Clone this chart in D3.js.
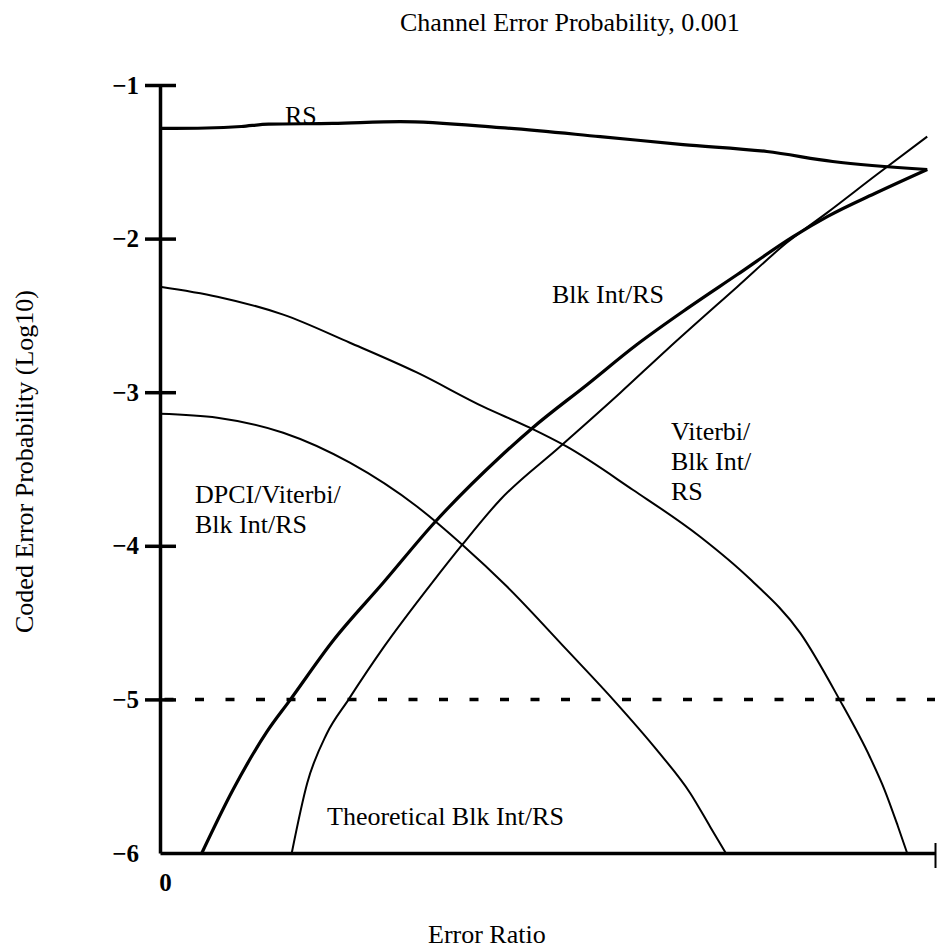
<!DOCTYPE html>
<html>
<head>
<meta charset="utf-8" />
<title>Channel Error Probability, 0.001</title>
<script src="https://d3js.org/d3.v7.min.js"></script>
<style>
  body { margin: 0; background: #fff; }
  svg text { font-family: "Liberation Serif", "Times New Roman", serif; fill: #000; }
</style>
</head>
<body>
<svg id="chart" width="937" height="951"></svg>
<script>
// values: [error ratio (0..1 of axis), log10 coded error probability]
var rsPoints = [[0,-1.283],[0.06,-1.280],[0.105,-1.270],[0.14,-1.255],[0.223,-1.250],[0.310,-1.238],
  [0.439,-1.277],[0.568,-1.336],[0.675,-1.388],[0.783,-1.433],[0.868,-1.498],[0.990,-1.550]];
var viterbiPoints = [[0,-2.313],[0.074,-2.378],[0.159,-2.495],[0.245,-2.678],[0.332,-2.873],[0.417,-3.094],
  [0.477,-3.231],[0.525,-3.355],[0.610,-3.635],[0.697,-3.941],[0.761,-4.215],[0.826,-4.567],[0.877,-5.003],
  [0.916,-5.375],[0.935,-5.590],[0.952,-5.824],[0.964,-6]];
var dpciPoints = [[0,-3.140],[0.074,-3.166],[0.159,-3.264],[0.245,-3.459],[0.332,-3.746],[0.390,-3.993],
  [0.448,-4.267],[0.525,-4.678],[0.585,-5.003],[0.641,-5.329],[0.684,-5.609],[0.710,-5.83],[0.730,-6]];
var blkPoints = [[0.054,-6],[0.094,-5.590],[0.138,-5.210],[0.168,-5.003],[0.223,-4.620],[0.288,-4.241],
  [0.354,-3.850],[0.439,-3.420],[0.481,-3.231],[0.551,-2.951],[0.615,-2.691],[0.680,-2.456],[0.745,-2.234],
  [0.817,-1.987],[0.861,-1.857],[0.925,-1.700],[0.990,-1.550]];
var theoryPoints = [[0.170,-6],[0.190,-5.544],[0.215,-5.225],[0.243,-5.003],[0.288,-4.665],[0.352,-4.235],
  [0.390,-3.993],[0.439,-3.700],[0.516,-3.355],[0.594,-3.003],[0.654,-2.723],[0.745,-2.313],[0.809,-2.026],
  [0.861,-1.831],[0.925,-1.583],[0.990,-1.336]];
var yTicks = [-1, -2, -3, -4, -5, -6];
var threshold = -5;

var svg = d3.select("#chart");
var x = d3.scaleLinear().domain([0, 1]).range([160, 935]);
var y = d3.scaleLinear().domain([-6, -1]).range([853, 85]);

// dashed line at 1e-5
svg.append("line")
  .attr("x1", x(0)).attr("x2", x(1))
  .attr("y1", y(threshold)).attr("y2", y(threshold))
  .attr("stroke", "#000").attr("stroke-width", 3.5)
  .attr("stroke-dasharray", "9,21.5").attr("stroke-dashoffset", 26);

// curves
var line = d3.line()
  .x(function(d) { return x(d[0]); })
  .y(function(d) { return y(d[1]); })
  .curve(d3.curveMonotoneX);

var series = [
  {pts: rsPoints, w: 3.2},
  {pts: viterbiPoints, w: 2},
  {pts: dpciPoints, w: 2},
  {pts: blkPoints, w: 3.2},
  {pts: theoryPoints, w: 2}
];
svg.selectAll("path.curve").data(series).enter().append("path")
  .attr("class", "curve")
  .attr("d", function(s) { return line(s.pts); })
  .attr("fill", "none").attr("stroke", "#000")
  .attr("stroke-width", function(s) { return s.w; })
  .attr("stroke-linejoin", "round");

// y axis, ticks cross the axis line
var yAxis = svg.append("g").attr("transform", "translate(" + x(0) + ",0)")
  .call(d3.axisLeft(y).tickValues(yTicks).tickFormat(d3.format("d"))
    .tickSizeInner(15).tickSizeOuter(0).tickPadding(8));
yAxis.select(".domain").attr("stroke-width", 3.5);
yAxis.selectAll(".tick line").attr("x1", 16).attr("stroke-width", 3.5)
  .filter(function(d) { return d === -6; }).remove();
yAxis.selectAll(".tick text")
  .attr("x", -21)
  .style("font-family", "'Liberation Serif', serif")
  .style("font-size", "25px").style("font-weight", "bold");

// x axis: only the 0 label, a tick at the right end
var xAxis = svg.append("g").attr("transform", "translate(0," + y(-6) + ")")
  .call(d3.axisBottom(x).tickValues([0, 1]).tickSize(0).tickSizeOuter(0).tickPadding(20)
    .tickFormat(function(d) { return d === 0 ? "0" : ""; }));
xAxis.select(".domain").attr("stroke-width", 3.5);
xAxis.selectAll(".tick text")
  .attr("dx", 5)
  .style("font-family", "'Liberation Serif', serif")
  .style("font-size", "25px").style("font-weight", "bold");
xAxis.selectAll(".tick").filter(function(d) { return d === 1; })
  .append("line").attr("y1", -10).attr("y2", 15)
  .attr("stroke", "#000").attr("stroke-width", 2);

// texts
function label(tx, ty, lines, size) {
  var t = svg.append("text").attr("x", tx).attr("y", ty).style("font-size", (size || 26) + "px");
  lines.forEach(function(s, i) {
    t.append("tspan").attr("x", tx).attr("dy", i === 0 ? 0 : 30).text(s);
  });
}
label(400, 31, ["Channel Error Probability, 0.001"]);
label(285, 124, ["RS"]);
label(552, 303, ["Blk Int/RS"]);
label(671, 440, ["Viterbi/", "Blk Int/", "RS"]);
label(195, 503, ["DPCI/Viterbi/", "Blk Int/RS"]);
label(327, 825, ["Theoretical Blk Int/RS"]);
label(428, 943, ["Error Ratio"]);

svg.append("text")
  .attr("transform", "translate(33,633) rotate(-90)")
  .style("font-size", "26px")
  .text("Coded Error Probability (Log10)");
</script>
</body>
</html>
